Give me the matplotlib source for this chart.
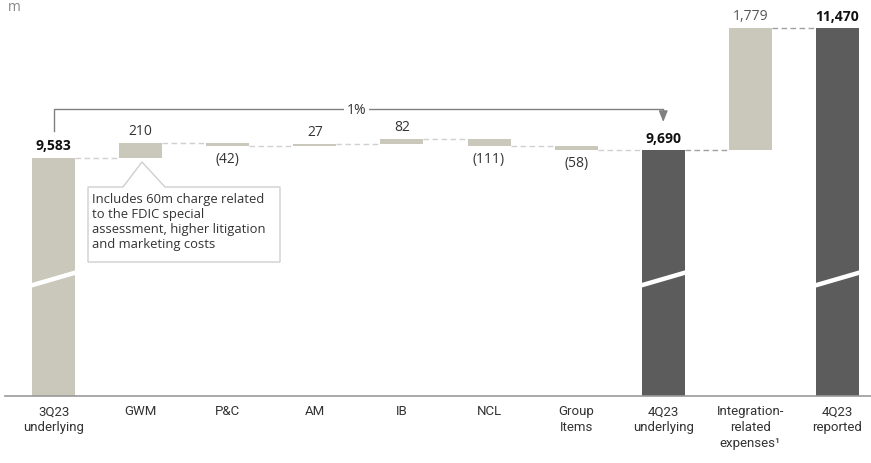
import matplotlib
matplotlib.use("Agg")
import matplotlib.pyplot as plt
from matplotlib.patches import Polygon
import numpy as np

# ---------------- data ----------------
categories = ["3Q23\nunderlying", "GWM", "P&C", "AM", "IB", "NCL", "Group\nItems",
              "4Q23\nunderlying", "Integration-\nrelated\nexpenses\u00b9", "4Q23\nreported"]
start_total = 9583
segment_deltas = [210, -42, 27, 82, -111, -58]
underlying_total = 9690
integration_delta = 1779
reported_total = 11470
change_label = "1%"
callout_text = ("Includes 60m charge related\nto the FDIC special\n"
                "assessment, higher litigation\nand marketing costs")
unit_label = "m"

LIGHT = "#cac8bb"
DARK = "#5b5c5b"
TXT = "#333333"

W, H = 871, 464
fig = plt.figure(figsize=(W / 100, H / 100), dpi=100)
ax = fig.add_axes([5 / W, (H - 397) / H, 866 / W, (397 - 10) / H])
ymin, ymax = 6109, 11751
ax.set_xlim(-0.557, 9.385)
ax.set_ylim(ymin, ymax)
for s in ["top", "right", "left"]:
    ax.spines[s].set_visible(False)
ax.spines["bottom"].set_color("#999999")
ax.spines["bottom"].set_linewidth(1.2)
ax.set_yticks([])

bw = 0.494
x = np.arange(len(categories))

num_font = ["Open Sans", "DejaVu Sans"]
tick_font = ["Roboto", "DejaVu Sans"]

# totals
def total_bar(i, val, color):
    ax.bar(i, val - ymin, bottom=ymin, width=bw, color=color, zorder=2)

total_bar(0, start_total, LIGHT)
total_bar(7, underlying_total, DARK)
total_bar(9, reported_total, DARK)

# deltas
running = start_total
prev_right = 0 + bw / 2
for k, d in enumerate(segment_deltas):
    i = k + 1
    lo, hi = min(running, running + d), max(running, running + d)
    ax.bar(i, max(hi - lo, 8), bottom=lo, width=bw, color=LIGHT, zorder=2)
    ax.plot([prev_right, i - bw / 2], [running, running], ls=(0, (4, 2.5)),
            color="#d0d0d0", lw=1, zorder=1)
    if d >= 0:
        ax.text(i, hi + 75, f"{d:,}", ha="center", va="bottom", fontsize=10,
                color=TXT, family=num_font)
    else:
        ax.text(i, lo - 75, f"({-d:,})", ha="center", va="top", fontsize=10,
                color=TXT, family=num_font)
    running += d
    prev_right = i + bw / 2
ax.plot([prev_right, 7 - bw / 2], [underlying_total, underlying_total],
        ls=(0, (4, 2.5)), color="#d0d0d0", lw=1, zorder=1)

# integration bar
ax.bar(8, integration_delta, bottom=underlying_total, width=bw, color=LIGHT, zorder=2)
ax.plot([7 + bw / 2, 8 - bw / 2], [underlying_total] * 2, ls=(0, (4, 2.5)),
        color="#a0a0a0", lw=1, zorder=1)
ax.plot([8 + bw / 2, 9 - bw / 2], [reported_total] * 2, ls=(0, (4, 2.5)),
        color="#a0a0a0", lw=1, zorder=1)
ax.text(8, underlying_total + integration_delta + 80, f"{integration_delta:,}",
        ha="center", va="bottom", fontsize=10, color="#555555", family=num_font)

# total labels
for i, v in [(0, start_total), (7, underlying_total), (9, reported_total)]:
    ax.text(i, v + 80, f"{v:,}", ha="center", va="bottom", fontsize=10,
            fontweight="bold", color="#111111", family=num_font)

# axis breaks
for i in [0, 7, 9]:
    ax.plot([i - bw / 2 - 0.01, i + bw / 2 + 0.01], [7720, 7910], color="white",
            lw=3.2, zorder=3, solid_capstyle="butt")

# bracket with arrow
yb = 10293
ax.plot([0, 0, 7, 7], [start_total + 390, yb, yb, 10200], color="#808080", lw=1, zorder=1)
ax.annotate("", xy=(7, 10104), xytext=(7, 10210),
            arrowprops=dict(arrowstyle="-|>,head_length=0.55,head_width=0.22",
                            color="#808080", lw=1,
                            mutation_scale=12, shrinkA=0, shrinkB=0))
ax.text(3.48, yb, change_label, ha="center", va="center", fontsize=10, color=TXT,
        family=num_font, bbox=dict(facecolor="white", edgecolor="none", pad=2))

# callout box (pixel coordinates -> figure fraction)
def fp(px, py):
    return (px / W, (H - py) / H)

pts = [fp(88, 188), fp(123, 188), fp(142, 163), fp(165, 188), fp(280, 188),
       fp(280, 263), fp(88, 263)]
fig.patches.append(Polygon(pts, closed=True, transform=fig.transFigure,
                           facecolor="white", edgecolor="#cfcfcf", lw=1, zorder=5))
fx, fy = fp(92, 193)
fig.text(fx, fy, callout_text, ha="left", va="top", fontsize=9.4, color=TXT,
         family=num_font, linespacing=1.2, zorder=6)

# unit
fx, fy = fp(8, 0)
fig.text(fx, fy, unit_label, ha="left", va="top", fontsize=10, color="#888888",
         family=num_font)

ax.set_xticks(x)
ax.set_xticklabels(categories, fontsize=9.5, color=TXT, family=tick_font,
                   linespacing=1.3)
ax.tick_params(axis="x", length=0, pad=6)

fig.savefig("out.png", dpi=100)
